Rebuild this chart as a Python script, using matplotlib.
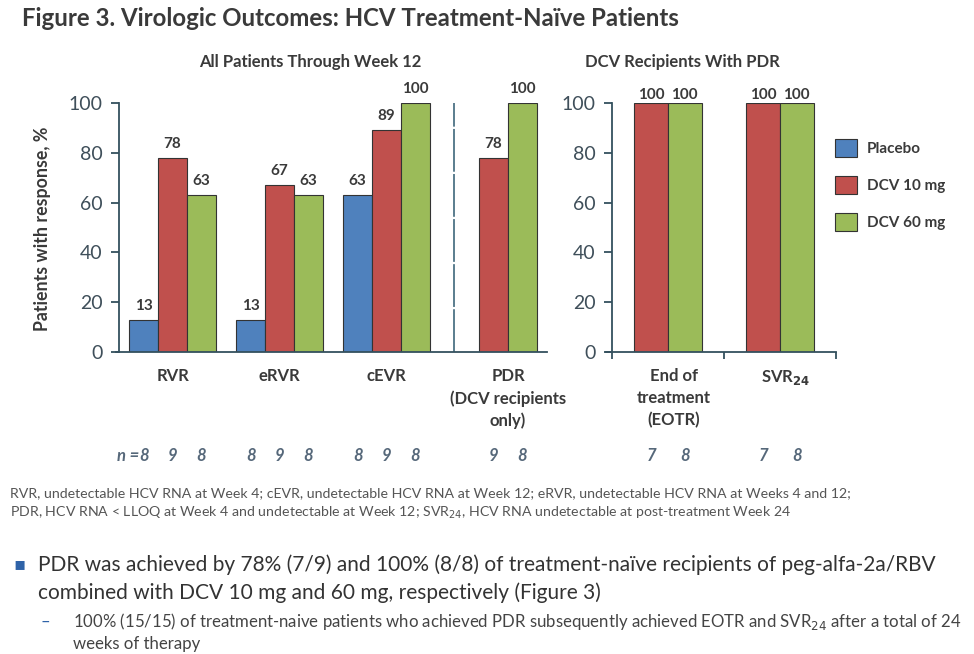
import matplotlib
matplotlib.use("Agg")
import matplotlib.pyplot as plt
from matplotlib.patches import Patch
from matplotlib.transforms import blended_transform_factory

plt.rcParams["font.family"] = ["Lato", "DejaVu Sans"]

# ---- data ----
left_categories = ["RVR", "eRVR", "cEVR", "PDR\n(DCV recipients\nonly)"]
placebo = [13, 13, 63, None]
dcv10 = [78, 67, 89, 78]
dcv60 = [63, 63, 100, 100]
n_placebo = [8, 8, 8, None]
n_dcv10 = [9, 9, 9, 9]
n_dcv60 = [8, 8, 8, 8]

right_categories = ["End of\ntreatment\n(EOTR)", "SVR$_{\\mathbf{24}}$"]
pdr_dcv10 = [100, 100]
pdr_dcv60 = [100, 100]
n_pdr_dcv10 = [7, 7]
n_pdr_dcv60 = [8, 8]

series_names = ["Placebo", "DCV 10 mg", "DCV 60 mg"]
colors = ["#4F81BD", "#C0504D", "#9BBB59"]
yticks = [0, 20, 40, 60, 80, 100]

# ---- figure ----
W, H = 974, 654
fig = plt.figure(figsize=(W / 100, H / 100), dpi=100)


def fx(x):
    return x / W


def fy(y):
    return 1 - y / H


axis_color = "#34505e"
label_color = "#3a3a3a"
n_color = "#56687a"
edge = "#333333"

ax1 = fig.add_axes([fx(119), fy(352), fx(547) - fx(119), fy(103) - fy(352)])
ax2 = fig.add_axes([fx(612), fy(352), fx(836) - fx(612), fy(103) - fy(352)])

for ax in (ax1, ax2):
    ax.set_ylim(0, 100)
    ax.set_yticks(yticks)
    ax.spines["top"].set_visible(False)
    ax.spines["right"].set_visible(False)
    for s in ("left", "bottom"):
        ax.spines[s].set_color(axis_color)
        ax.spines[s].set_linewidth(1.3)
    ax.tick_params(axis="y", direction="out", length=6, width=1.3, color=axis_color,
                   labelsize=14, labelcolor="#3f4f5a", pad=6)
    ax.patch.set_alpha(0)

# ---- left panel ----
bw1 = 0.27
ax1.set_xlim(-0.5, 3.5)
ax1.set_xticks([])
ax1.spines["bottom"].set_bounds(-0.53, 3.5)
offsets = [-bw1, 0, bw1]
for si, vals in enumerate([placebo, dcv10, dcv60]):
    for ci, v in enumerate(vals):
        if v is None:
            continue
        x = ci + offsets[si]
        ax1.bar(x, v, width=bw1, color=colors[si], edgecolor=edge, linewidth=0.8)
        ax1.annotate(f"{v}", (x, v), xytext=(0, 5), textcoords="offset points",
                     ha="center", va="bottom", fontsize=11, fontweight="bold",
                     color=label_color, annotation_clip=False)

# separator between the per-protocol group and the rest
ax1.axvline(2.635, ymin=0, ymax=1.0, color="#2d5a70", linewidth=1.1,
            linestyle=(0, (28, 1.5)))

trans1 = blended_transform_factory(ax1.transData, fig.transFigure)
cat_x1 = [0, 1, 2, 3.135]
for x, lab in zip(cat_x1, left_categories):
    ax1.text(x, fy(368), lab, transform=trans1, ha="center", va="top",
             fontsize=12, fontweight="bold", color=label_color, linespacing=1.45)

for si, ns in enumerate([n_placebo, n_dcv10, n_dcv60]):
    for ci, n in enumerate(ns):
        if n is None:
            continue
        x = ci + offsets[si]
        ax1.text(x, fy(456), f"{n}", transform=trans1, ha="center", va="center",
                 fontsize=12, style="italic", fontweight="bold", color=n_color)
ax1.text(-bw1 - 0.04, fy(456), "n =", transform=trans1, ha="right", va="center",
         fontsize=12, style="italic", fontweight="bold", color=n_color)

# ---- right panel ----
bw2 = 0.30
ax2.set_xlim(-0.5, 1.5)
ax2.set_xticks([-0.5, 0.5, 1.5])
ax2.set_xticklabels([])
ax2.tick_params(axis="x", direction="out", length=5, width=1.3, color=axis_color)
ax2.spines["bottom"].set_bounds(-0.55, 1.5)
for si, vals in enumerate([pdr_dcv10, pdr_dcv60]):
    off = -bw2 / 2 if si == 0 else bw2 / 2
    for ci, v in enumerate(vals):
        x = ci + off
        ax2.bar(x, v, width=bw2, color=colors[si + 1], edgecolor=edge, linewidth=0.8)
        ax2.annotate(f"{v}", (x, v), xytext=(0, 1), textcoords="offset points",
                     ha="center", va="bottom", fontsize=11, fontweight="bold",
                     color=label_color, annotation_clip=False)

trans2 = blended_transform_factory(ax2.transData, fig.transFigure)
for x, lab in zip([0, 1], right_categories):
    ax2.text(x + 0.05, fy(368), lab, transform=trans2, ha="center", va="top",
             fontsize=12, fontweight="bold", color=label_color, linespacing=1.45)
for si, ns in enumerate([n_pdr_dcv10, n_pdr_dcv60]):
    off = -bw2 / 2 if si == 0 else bw2 / 2
    for ci, n in enumerate(ns):
        ax2.text(ci + off, fy(456), f"{n}", transform=trans2, ha="center",
                 va="center", fontsize=12, style="italic", fontweight="bold",
                 color=n_color)

# ---- legend ----
handles = [Patch(facecolor=c, edgecolor=edge, linewidth=0.8) for c in colors]
leg = fig.legend(handles, series_names, loc="center left",
                 bbox_to_anchor=(fx(827), fy(185)), frameon=False,
                 prop={"weight": "bold", "size": 11}, handlelength=1.45,
                 handleheight=1.45, labelspacing=1.25, handletextpad=0.65,
                 borderpad=0)
for t in leg.get_texts():
    t.set_color(label_color)

# ---- titles and labels ----
fig.text(fx(22), fy(19), "Figure 3. Virologic Outcomes: HCV Treatment-Naïve Patients",
         ha="left", va="center", fontsize=17.3, fontweight="bold", color="#3a3a3a")
fig.text(fx(310), fy(62), "All Patients Through Week 12", ha="center", va="center",
         fontsize=12, fontweight="bold", color=label_color)
fig.text(fx(682), fy(62), "DCV Recipients With PDR", ha="center", va="center",
         fontsize=12, fontweight="bold", color=label_color)
fig.text(fx(43), fy(229), "Patients with response, %", rotation=90, ha="center",
         va="center", fontsize=12.8, fontweight="bold", color=label_color)

# ---- footnotes and notes ----
foot = "#555555"
fig.text(fx(10), fy(493),
         "RVR, undetectable HCV RNA at Week 4; cEVR, undetectable HCV RNA at Week 12; "
         "eRVR, undetectable HCV RNA at Weeks 4 and 12;",
         ha="left", va="center", fontsize=10.2, color=foot)
fig.text(fx(10), fy(513),
         "PDR, HCV RNA < LLOQ at Week 4 and undetectable at Week 12; SVR$_{24}$, "
         "HCV RNA undetectable at post-treatment Week 24",
         ha="left", va="center", fontsize=10.2, color=foot)

fig.text(fx(13), fy(564), "\u25AA", ha="left", va="center", fontsize=13,
         color="#2f63a8", family="DejaVu Sans")
fig.text(fx(38), fy(565),
         "PDR was achieved by 78% (7/9) and 100% (8/8) of treatment-naïve recipients "
         "of peg-alfa-2a/RBV",
         ha="left", va="center", fontsize=15, color="#333333")
fig.text(fx(38), fy(593),
         "combined with DCV 10 mg and 60 mg, respectively (Figure 3)",
         ha="left", va="center", fontsize=15, color="#333333")
fig.text(fx(40), fy(622), "\u2013", ha="left", va="center", fontsize=12,
         color="#2f63a8")
fig.text(fx(73), fy(622),
         "100% (15/15) of treatment-naive patients who achieved PDR subsequently "
         "achieved EOTR and SVR$_{24}$ after a total of 24",
         ha="left", va="center", fontsize=12.1, color="#444444")
fig.text(fx(73), fy(644), "weeks of therapy", ha="left", va="center",
         fontsize=12.1, color="#444444")

fig.savefig("out.png", dpi=100)
